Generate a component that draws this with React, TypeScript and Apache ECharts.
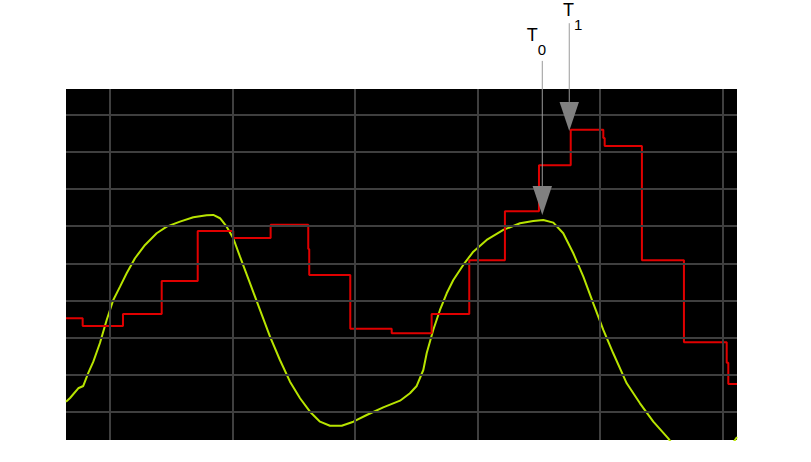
import React, { useEffect, useRef } from "react";
import * as echarts from "echarts";

// Axis extents (grid line spacing = 1 unit on both axes)
const xMin = 0.641;
const xMax = 6.117;
const yMin = 0.2465;
const yMax = 9.69;

// Grid line positions
const gridX = [1, 2, 3, 4, 5, 6];
const gridY = [1, 2, 3, 4, 5, 6, 7, 8, 9];

// Red step trace: start x of each level, and the level
const redX = [
  0.641, 0.777, 1.106, 1.422, 1.716, 2.006, 2.311, 2.618, 2.626, 2.961, 3.299,
  3.625, 3.932, 4.223, 4.501, 4.76, 5.026, 5.037, 5.341, 5.684, 6.033, 6.046, 6.117,
];
const redY = [
  3.522, 3.314, 3.637, 4.525, 5.871, 5.682, 6.04, 5.386, 4.687, 3.242, 3.118,
  3.637, 5.082, 6.401, 7.639, 8.597, 8.374, 8.158, 5.082, 2.876, 2.327, 1.754, 1.754,
];

// Yellow trace
const yellowX = [
  0.641, 0.674, 0.741, 0.782, 0.823, 0.864, 0.918, 0.973, 1.027, 1.082, 1.136,
  1.204, 1.286, 1.381, 1.463, 1.571, 1.68, 1.789, 1.843, 1.898, 1.952, 2.006,
  2.061, 2.143, 2.224, 2.306, 2.387, 2.469, 2.551, 2.632, 2.714, 2.795, 2.891,
  2.986, 3.095, 3.23, 3.367, 3.448, 3.503, 3.557, 3.585, 3.638, 3.693, 3.748,
  3.802, 3.883, 3.965, 4.074, 4.21, 4.346, 4.454, 4.536, 4.618, 4.699, 4.781,
  4.863, 4.944, 5.026, 5.107, 5.217, 5.325, 5.434, 5.556, 5.652, 5.856, 6.019,
  6.117,
];
const yellowY = [
  1.277, 1.377, 1.638, 1.7, 2.05, 2.354, 2.857, 3.476, 4.014, 4.372, 4.733,
  5.136, 5.494, 5.809, 5.986, 6.121, 6.239, 6.293, 6.301, 6.213, 5.986, 5.674,
  5.179, 4.463, 3.745, 3.026, 2.399, 1.815, 1.369, 1.008, 0.739, 0.631, 0.631,
  0.739, 0.919, 1.126, 1.304, 1.503, 1.7, 2.13, 2.588, 3.207, 3.745, 4.194,
  4.552, 4.956, 5.314, 5.629, 5.898, 6.078, 6.14, 6.167, 6.094, 5.809, 5.271,
  4.641, 3.925, 3.207, 2.58, 1.772, 1.234, 0.739, 0.292, -0.157, -0.561, -0.157,
  0.327,
];

// Cursor markers T0 / T1
const markerSub = ["0", "1"];
const markerX = [4.528, 4.748];
const markerTipY = [6.301, 8.562];
const markerStemTopY = [10.446, 11.46];
const markerLabelX = [4.446, 4.742];
const markerLabelY = [11.153, 11.82];

export default function App() {
  const ref = useRef<HTMLDivElement>(null);

  useEffect(() => {
    if (!ref.current) return;
    const chart = echarts.init(ref.current, undefined, { renderer: "svg" });

    const red = redX.map((x, i) => [x, redY[i]]);
    const yellow = yellowX.map((x, i) => [x, yellowY[i]]);
    const markers = markerX.map((x, i) => [
      x,
      markerTipY[i],
      markerStemTopY[i],
      markerLabelX[i],
      markerLabelY[i],
    ]);

    chart.setOption({
      animation: false,
      grid: {
        left: 66,
        top: 89,
        width: 671,
        height: 351,
        show: true,
        backgroundColor: "#000000",
        borderWidth: 0,
      },
      xAxis: {
        type: "value",
        min: xMin,
        max: xMax,
        axisLine: { show: false },
        axisTick: { show: false },
        axisLabel: { show: false },
        splitLine: { show: false },
      },
      yAxis: {
        type: "value",
        min: yMin,
        max: yMax,
        axisLine: { show: false },
        axisTick: { show: false },
        axisLabel: { show: false },
        splitLine: { show: false },
      },
      series: [
        {
          type: "line",
          z: 1,
          data: [[gridX[0], gridY[0]]],
          symbol: "none",
          lineStyle: { width: 0, opacity: 0 },
          silent: true,
          markLine: {
            silent: true,
            symbol: "none",
            label: { show: false },
            lineStyle: { color: "#3f3f3f", width: 2, type: "solid" },
            emphasis: { disabled: true },
            data: [
              ...gridX.map((v) => ({ xAxis: v })),
              ...gridY.map((v) => ({ yAxis: v })),
            ],
          },
        },
        {
          type: "line",
          z: 3,
          data: yellow,
          symbol: "none",
          smooth: false,
          clip: true,
          lineStyle: { color: "#b8e400", width: 2 },
        },
        {
          type: "line",
          z: 4,
          data: red,
          step: "end",
          symbol: "none",
          clip: true,
          lineStyle: { color: "#e00000", width: 2 },
        },
        {
          type: "custom",
          z: 5,
          clip: false,
          silent: true,
          data: markers,
          renderItem: (params: any, api: any) => {
            const i = params.dataIndex;
            const tip = api.coord([api.value(0), api.value(1)]);
            const top = api.coord([api.value(0), api.value(2)]);
            const lab = api.coord([api.value(3), api.value(4)]);
            const triH = 29;
            const triW = 19.4;
            return {
              type: "group",
              children: [
                {
                  type: "line",
                  shape: { x1: top[0], y1: top[1], x2: tip[0], y2: tip[1] - triH },
                  style: { stroke: "#9a9a9a", lineWidth: 1 },
                },
                {
                  type: "polygon",
                  shape: {
                    points: [
                      [tip[0] - triW / 2, tip[1] - triH],
                      [tip[0] + triW / 2, tip[1] - triH],
                      [tip[0], tip[1]],
                    ],
                  },
                  style: { fill: "#808080" },
                },
                {
                  type: "text",
                  x: lab[0],
                  y: lab[1],
                  style: {
                    text: "T",
                    fill: "#000000",
                    fontSize: 18,
                    fontFamily: "Liberation Sans",
                    align: "center",
                    verticalAlign: "middle",
                  },
                },
                {
                  type: "text",
                  x: lab[0] + 9.6,
                  y: lab[1] + 14.4,
                  style: {
                    text: markerSub[i],
                    fill: "#000000",
                    fontSize: 15,
                    fontFamily: "Liberation Sans",
                    align: "center",
                    verticalAlign: "middle",
                  },
                },
              ],
            };
          },
        },
      ],
    });

    return () => {
      chart.dispose();
    };
  }, []);

  return (
    <div
      ref={ref}
      style={{ position: "fixed", left: 0, top: 0, width: 811, height: 462, background: "#ffffff" }}
    />
  );
}
